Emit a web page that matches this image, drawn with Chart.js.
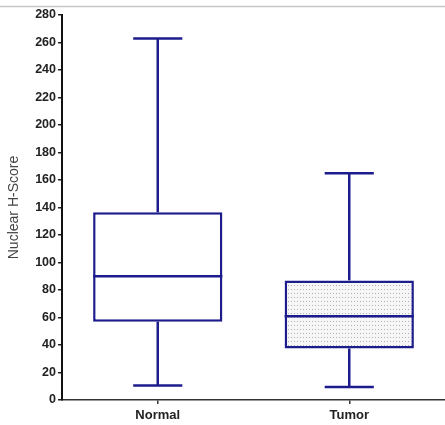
<!DOCTYPE html>
<html>
<head>
<meta charset="utf-8">
<script src="https://cdn.jsdelivr.net/npm/chart.js@4"></script>
<style>
  html, body { margin: 0; padding: 0; background: #fff; }
  #wrap { width: 445px; height: 425px; position: relative; }
</style>
</head>
<body>
<div id="wrap"><canvas id="chart" width="445" height="425"></canvas></div>
<script>
const categories = ['Normal', 'Tumor'];
const mins = [10.5, 9.5];
const q1s = [57, 37.5];
const medians = [90, 61];
const q3s = [136.5, 87];
const maxs = [263, 165];
const yTicks = { min: 0, max: 280, step: 20 };

const navy = '#1c1c8c';

// dotted fill for the Tumor box
function dotPattern() {
  const c = document.createElement('canvas');
  c.width = 3; c.height = 4;
  const g = c.getContext('2d');
  g.fillStyle = '#f6f6f6';
  g.fillRect(0, 0, 3, 4);
  g.fillStyle = '#b4b4b4';
  g.fillRect(0, 1, 1, 1);
  return g.createPattern(c, 'repeat');
}

const pageLine = {
  id: 'pageLine',
  beforeDraw(chart) {
    const ctx = chart.ctx;
    ctx.save();
    ctx.fillStyle = '#fff';
    ctx.fillRect(0, 0, chart.width, chart.height);
    ctx.strokeStyle = '#c8c8c8';
    ctx.lineWidth = 1.5;
    ctx.beginPath();
    ctx.moveTo(0, 6.5);
    ctx.lineTo(chart.width, 6.5);
    ctx.stroke();
    ctx.restore();
  }
};

const whiskers = {
  id: 'whiskers',
  afterDatasetsDraw(chart) {
    const ctx = chart.ctx;
    const y = chart.scales.y;
    const meta = chart.getDatasetMeta(0);
    ctx.save();
    ctx.strokeStyle = navy;
    ctx.lineWidth = 2.5;
    ctx.lineCap = 'butt';
    meta.data.forEach((bar, i) => {
      const x = bar.x;
      const half = bar.width / 2;
      const cap = bar.width * 0.19;
      const line = (x1, y1, x2, y2) => {
        ctx.beginPath();
        ctx.moveTo(x1, y1);
        ctx.lineTo(x2, y2);
        ctx.stroke();
      };
      // whiskers
      line(x, y.getPixelForValue(q3s[i]), x, y.getPixelForValue(maxs[i]));
      line(x, y.getPixelForValue(q1s[i]), x, y.getPixelForValue(mins[i]));
      // caps
      line(x - cap, y.getPixelForValue(maxs[i]), x + cap, y.getPixelForValue(maxs[i]));
      line(x - cap, y.getPixelForValue(mins[i]), x + cap, y.getPixelForValue(mins[i]));
      // median
      line(x - half, y.getPixelForValue(medians[i]), x + half, y.getPixelForValue(medians[i]));
    });
    ctx.restore();
  }
};

new Chart(document.getElementById('chart'), {
  type: 'bar',
  data: {
    labels: categories,
    datasets: [{
      data: categories.map((c, i) => [q1s[i], q3s[i]]),
      backgroundColor: ['#ffffff', dotPattern()],
      borderColor: navy,
      borderWidth: 2.5,
      borderSkipped: false,
      categoryPercentage: 1,
      barPercentage: 0.675
    }]
  },
  options: {
    responsive: false,
    animation: false,
    layout: { padding: { top: 15, left: 0, right: 0, bottom: 0 } },
    plugins: {
      legend: { display: false },
      tooltip: { enabled: false }
    },
    scales: {
      x: {
        offset: true,
        grid: { drawOnChartArea: false, offset: false, tickLength: 4, color: '#333', lineWidth: 1.5 },
        border: { display: true, color: '#333', width: 1.5 },
        ticks: { color: '#222', font: { family: 'Liberation Sans', size: 13, weight: 'bold' }, padding: 4 },
        afterFit(scale) { scale.height = 25; }
      },
      y: {
        min: yTicks.min,
        max: yTicks.max,
        grid: { drawOnChartArea: false, tickLength: 4, color: '#222', lineWidth: 1.5 },
        border: { display: true, color: '#111', width: 2 },
        ticks: {
          stepSize: yTicks.step,
          color: '#222',
          padding: 2,
          font: { family: 'Liberation Sans', size: 12.5, weight: 'bold' }
        },
        title: {
          display: true,
          text: 'Nuclear H-Score',
          color: '#444',
          font: { family: 'Liberation Sans', size: 14 },
          padding: { top: 6, bottom: 0 }
        },
        afterFit(scale) { scale.width = 62; }
      }
    }
  },
  plugins: [pageLine, whiskers]
});
</script>
</body>
</html>
